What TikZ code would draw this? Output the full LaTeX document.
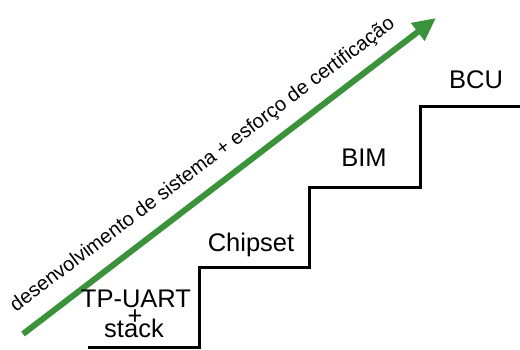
\documentclass[tikz,border=0pt]{standalone}
\usepackage{fontspec}
\setmainfont{Liberation Sans}
\usetikzlibrary{arrows.meta}
\definecolor{stepgreen}{RGB}{58,147,58}
\begin{document}
\begin{tikzpicture}[x=1pt,y=-1pt,
  stair/.style={line width=3pt,line join=miter,black},
  growth/.style={line width=6pt,stepgreen,-{Triangle[length=23pt,width=21pt]}},
  steplabel/.style={font=\fontsize{25.5}{25.5}\selectfont,anchor=base,inner sep=0pt},
  diaglabel/.style={font=\fontsize{20}{20}\selectfont,anchor=base,inner sep=0pt,rotate=37}]
\useasboundingbox (0,0) rectangle (520,349);
% staircase corners
\coordinate (s0) at (88,347);
\coordinate (s1) at (199,347);
\coordinate (s2) at (199,267);
\coordinate (s3) at (309,267);
\coordinate (s4) at (309,187);
\coordinate (s5) at (420,187);
\coordinate (s6) at (420,106);
\coordinate (s7) at (520,106);
\draw[stair] (s0) -- (s1) -- (s2) -- (s3) -- (s4) -- (s5) -- (s6) -- (s7);
% rising effort arrow
\coordinate (g0) at (23,334);
\coordinate (g1) at (436,18);
\draw[growth] (g0) -- (g1);
\node[diaglabel] (effort) at (206,169) {desenvolvimento de sistema + esforço de certificação};
% step labels
\node[steplabel] (tp) at (136,307) {TP-UART};
\node[steplabel] (plus) at (135,324) {+};
\node[steplabel] (stack) at (134,337) {stack};
\node[steplabel] (chip) at (251,251) {Chipset};
\node[steplabel] (bim) at (364,166) {BIM};
\node[steplabel] (bcu) at (476,88) {BCU};
\end{tikzpicture}
\end{document}
